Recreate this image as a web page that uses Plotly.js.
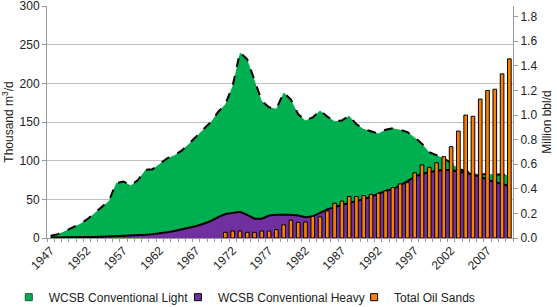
<!DOCTYPE html>
<html>
<head>
<meta charset="utf-8">
<script src="https://cdn.plot.ly/plotly-3.0.1.min.js"></script>
<style>
  html, body { margin: 0; padding: 0; background: #fff; }
  #chart { width: 557px; height: 307px; }
</style>
</head>
<body>
<div id="chart"></div>
<script>
// WCSB production, 1947-2010
var years = [1947, 1948, 1949, 1950, 1951, 1952, 1953, 1954, 1955, 1956,
  1957, 1958, 1959, 1960, 1961, 1962, 1963, 1964, 1965, 1966,
  1967, 1968, 1969, 1970, 1971, 1972, 1973, 1974, 1975, 1976,
  1977, 1978, 1979, 1980, 1981, 1982, 1983, 1984, 1985, 1986,
  1987, 1988, 1989, 1990, 1991, 1992, 1993, 1994, 1995, 1996,
  1997, 1998, 1999, 2000, 2001, 2002, 2003, 2004, 2005, 2006,
  2007, 2008, 2009, 2010];

// thousand m3/d
var conventionalLight = [3, 5, 9, 13, 18, 24, 32, 39, 48, 71,
  73, 68, 75, 88, 89, 96, 103, 107, 113, 122,
  131, 140, 150, 163, 173, 197, 240, 231, 204, 177,
  169, 167, 188, 179, 160, 152, 156, 165, 157, 151,
  152, 158, 147, 141, 138, 135, 140, 142, 140, 137,
  130, 122, 111, 107, 103, 97, 90, 86, 84, 82,
  83, 82, 82, 81];

var conventionalHeavy = [0.5, 0.5, 0.6, 0.7, 0.8, 1, 1.2, 1.5, 1.8, 2.2,
  2.6, 3, 3.5, 4.2, 5, 6, 7.5, 9, 11, 13,
  15.5, 18.5, 22, 27, 31, 32.5, 34, 30, 25, 25,
  29, 30, 30, 30, 29, 27, 28, 33, 37, 40,
  43, 46, 48, 50, 53, 57, 61, 63, 68, 74,
  79, 83, 85, 87, 88, 88, 86, 84, 82, 79,
  75, 72, 70, 67];

// million bbl/d
var oilSands = [null, null, null, null, null, null, null, null, null, null,
  null, null, null, null, null, null, null, null, null, null,
  null, null, null, null, 0.046, 0.057, 0.057, 0.046, 0.046, 0.057,
  0.057, 0.068, 0.107, 0.145, 0.127, 0.13, 0.175, 0.172, 0.22, 0.283,
  0.30, 0.338, 0.338, 0.345, 0.355, 0.364, 0.383, 0.41, 0.44, 0.45,
  0.53, 0.595, 0.575, 0.612, 0.662, 0.743, 0.87, 1.0, 0.99, 1.13,
  1.2, 1.21, 1.335, 1.457];

var names = ["WCSB Conventional Light", "WCSB Conventional Heavy", "Total Oil Sands"];
var colors = ["#00B050", "#7030A0", "#FF8000"];

var light = {
  x: years,
  y: conventionalLight,
  name: names[0],
  type: "scatter",
  mode: "lines",
  fill: "tozeroy",
  fillcolor: colors[0],
  line: {color: "#000", width: 2, dash: "dash"},
  showlegend: false
};

var heavy = {
  x: years,
  y: conventionalHeavy,
  name: names[1],
  type: "scatter",
  mode: "lines",
  fill: "tozeroy",
  fillcolor: colors[1],
  line: {color: "#000", width: 2},
  showlegend: false
};

var sands = {
  x: years,
  y: oilSands,
  name: names[2],
  type: "bar",
  yaxis: "y2",
  width: 0.5,
  marker: {color: colors[2], line: {color: "#000", width: 1}},
  showlegend: false
};

// small square keys like the original legend, one legend each so they can be placed
var legendIds = ["legend", "legend2", "legend3"];
var keys = names.map(function(n, i) {
  return {
    x: [null], y: [null],
    name: n,
    type: "scatter",
    mode: "markers",
    legend: legendIds[i],
    marker: {symbol: "square", size: 7, color: colors[i], line: {color: i == 0 ? "#1a5a30" : "#000", width: 1}},
    hoverinfo: "skip"
  };
});

var font = {family: "Arial, Liberation Sans, sans-serif", size: 12, color: "#222"};

function legendAt(x) {
  return {
    orientation: "h",
    x: x, xanchor: "left",
    y: -0.255, yanchor: "middle",
    font: font,
    itemwidth: 30,
    bgcolor: "rgba(0,0,0,0)"
  };
}

var layout = {
  width: 557,
  height: 307,
  margin: {l: 47, r: 44, t: 6, b: 69, autoexpand: false},
  paper_bgcolor: "#fff",
  plot_bgcolor: "#fff",
  font: font,
  showlegend: true,
  legend: legendAt(-0.082),
  legend2: legendAt(0.281),
  legend3: legendAt(0.659),
  xaxis: {
    type: "linear",
    range: [1946.5, 2010.5],
    tickmode: "linear",
    tick0: 1947,
    dtick: 5,
    tickangle: -45,
    ticks: "",
    showgrid: false,
    showline: true,
    linecolor: "#999",
    zeroline: false,
    minor: {tickmode: "linear", tick0: 1946.5, dtick: 1, ticks: "outside", ticklen: 3, tickcolor: "#999", showgrid: false}
  },
  yaxis: {
    title: {text: "Thousand m<sup>3</sup>/d", font: font, standoff: 6},
    range: [0, 300],
    dtick: 50,
    showgrid: true,
    gridcolor: "#BFBFBF",
    showline: true,
    linecolor: "#999",
    ticks: "outside",
    ticklen: 4,
    tickcolor: "#999",
    ticklabeloverflow: "allow",
    zeroline: false
  },
  yaxis2: {
    title: {text: "Million bbl/d", font: font, standoff: 6},
    overlaying: "y",
    side: "right",
    range: [0, 1.887],
    dtick: 0.2,
    tickformat: ".1f",
    showgrid: false,
    showline: true,
    linecolor: "#999",
    ticks: "outside",
    ticklen: 4,
    tickcolor: "#999",
    ticklabeloverflow: "allow",
    zeroline: false
  }
};

Plotly.newPlot("chart", [light, heavy, sands].concat(keys), layout, {displayModeBar: false, staticPlot: true});
</script>
</body>
</html>
